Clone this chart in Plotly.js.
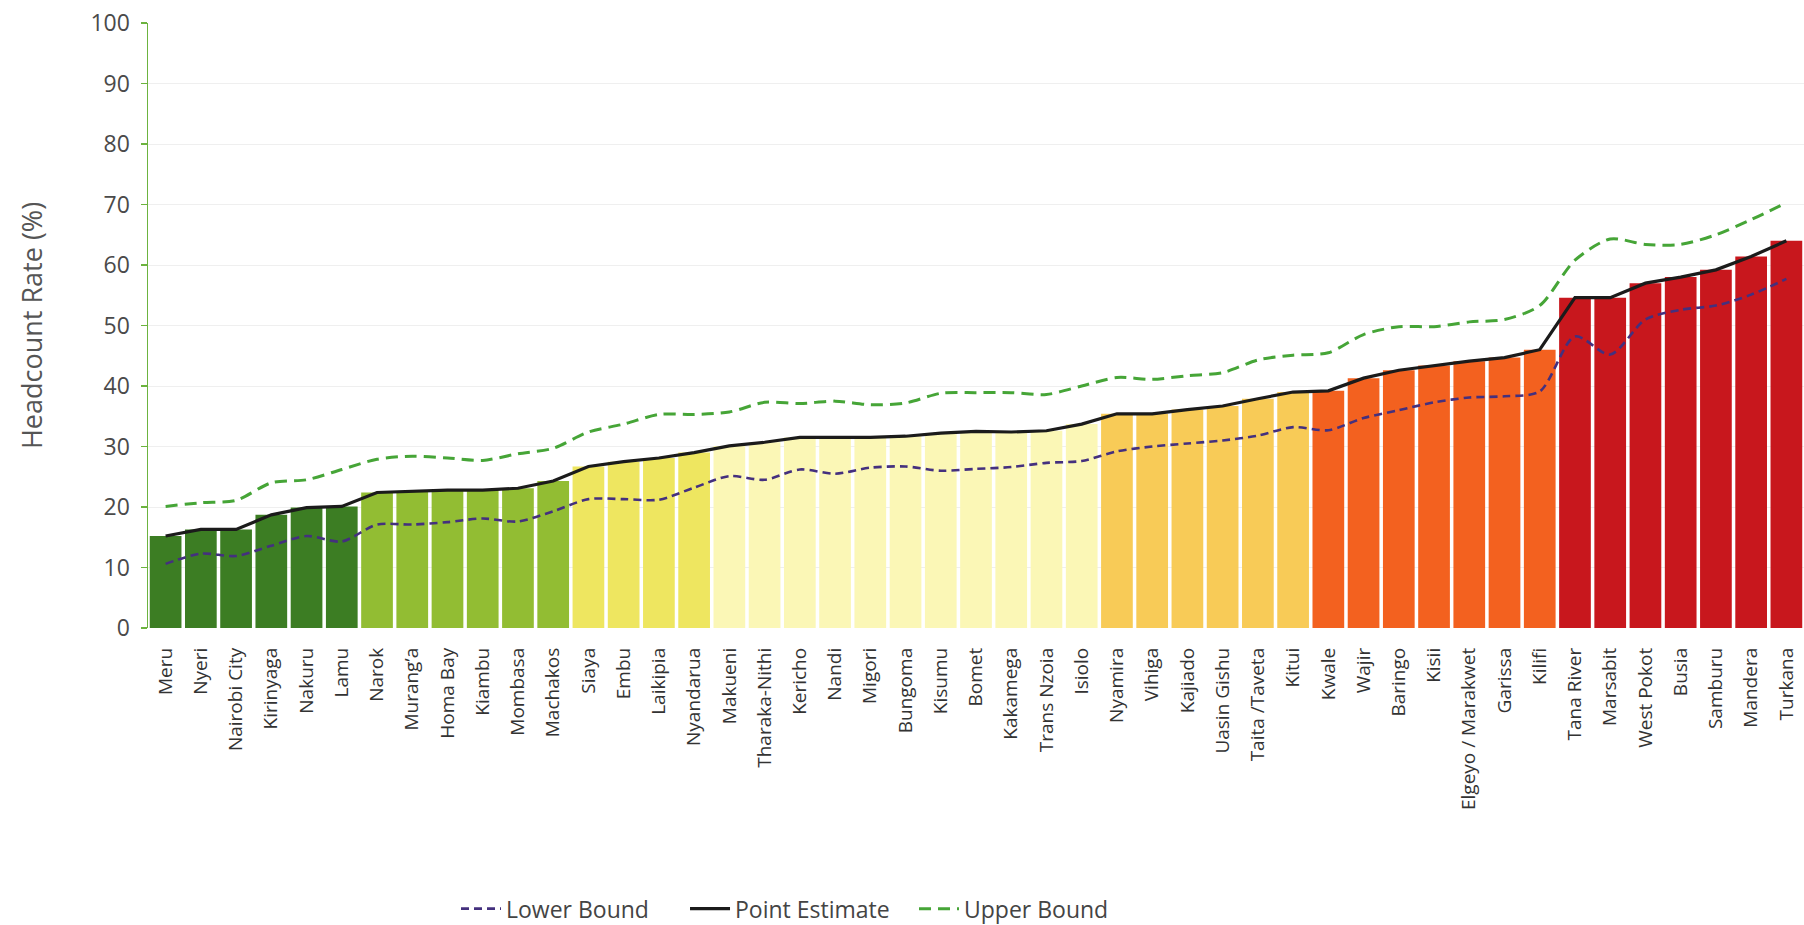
<!DOCTYPE html>
<html>
<head>
<meta charset="utf-8">
<script src="https://cdn.plot.ly/plotly-3.0.1.min.js"></script>
<style>
  html, body { margin: 0; padding: 0; background: #ffffff; }
  #chart { width: 1804px; height: 925px; }
</style>
</head>
<body>
<div id="chart"></div>
<script>
// ---- Data ----
const counties = ["Meru","Nyeri","Nairobi City","Kirinyaga","Nakuru","Lamu","Narok","Murang’a","Homa Bay","Kiambu","Mombasa","Machakos","Siaya","Embu","Laikipia","Nyandarua","Makueni","Tharaka-Nithi","Kericho","Nandi","Migori","Bungoma","Kisumu","Bomet","Kakamega","Trans Nzoia","Isiolo","Nyamira","Vihiga","Kajiado","Uasin Gishu","Taita /Taveta","Kitui","Kwale","Wajir","Baringo","Kisii","Elgeyo / Marakwet","Garissa","Kilifi","Tana River","Marsabit","West Pokot","Busia","Samburu","Mandera","Turkana"];

const pointEstimate = [15.2,16.3,16.3,18.7,19.9,20.1,22.4,22.6,22.8,22.8,23.1,24.3,26.7,27.5,28.1,29.0,30.1,30.7,31.5,31.5,31.5,31.7,32.2,32.5,32.4,32.6,33.7,35.4,35.4,36.1,36.7,37.9,39.0,39.2,41.3,42.6,43.4,44.1,44.7,46.0,54.6,54.6,57.0,58.0,59.2,61.4,64.0];

const lowerBound = [10.6,12.3,11.9,13.6,15.2,14.3,17.1,17.1,17.5,18.1,17.6,19.3,21.3,21.3,21.2,23.2,25.1,24.5,26.2,25.5,26.5,26.7,26.0,26.3,26.6,27.3,27.6,29.2,30.0,30.5,31.0,31.8,33.2,32.7,34.7,36.0,37.3,38.1,38.3,39.1,48.2,45.2,51.0,52.6,53.3,55.1,57.7];

const upperBound = [20.1,20.7,21.1,24.0,24.5,26.2,27.9,28.4,28.1,27.7,28.8,29.7,32.4,33.7,35.3,35.3,35.7,37.3,37.1,37.5,36.9,37.2,38.8,38.9,38.9,38.6,40.0,41.4,41.1,41.7,42.2,44.3,45.1,45.5,48.5,49.8,49.8,50.6,51.0,53.3,60.8,64.3,63.4,63.4,65.0,67.5,70.3];

// poverty tier of each county (1 = lowest ... 7 = highest)
const tiers = [1,1,1,1,1,1, 2,2,2,2,2,2, 3,3,3,3, 4,4,4,4,4,4,4,4,4,4,4, 5,5,5,5,5,5, 6,6,6,6,6,6,6, 7,7,7,7,7,7,7];

const yTicks = [0,10,20,30,40,50,60,70,80,90,100];

// ---- Styling ----
const tierColors = {1:"#3c7d23",2:"#92bd33",3:"#eee660",4:"#fbf7b6",5:"#f8cb57",6:"#f3611f",7:"#c8171d"};
const FONT = "Open Sans, Noto Sans, sans-serif";

const traces = [
  {
    type: "bar",
    x: counties,
    y: pointEstimate,
    marker: { color: tiers.map(t => tierColors[t]), line: { width: 0 } },
    showlegend: false,
    hoverinfo: "x+y"
  },
  {
    type: "scatter", mode: "lines", name: "Lower Bound",
    x: counties, y: lowerBound,
    line: { color: "#44307e", width: 2.6, dash: "8px,5px", shape: "spline", smoothing: 0.8 }
  },
  {
    type: "scatter", mode: "lines", name: "Point Estimate",
    x: counties, y: pointEstimate,
    line: { color: "#1b1b1b", width: 3.2 }
  },
  {
    type: "scatter", mode: "lines", name: "Upper Bound",
    x: counties, y: upperBound,
    line: { color: "#46a537", width: 3, dash: "12px,7px", shape: "spline", smoothing: 0.8 }
  }
];

const layout = {
  width: 1804,
  height: 925,
  margin: { l: 148, r: 0, t: 23, b: 297, pad: 0, autoexpand: false },
  paper_bgcolor: "#ffffff",
  plot_bgcolor: "#ffffff",
  font: { family: FONT, color: "#444444" },
  bargap: 0.1,
  showlegend: true,
  legend: {
    orientation: "h",
    x: 0.186, xanchor: "left",
    y: -0.464, yanchor: "middle",
    font: { family: FONT, size: 23, color: "#444444" },
    entrywidth: 174,
    entrywidthmode: "pixels",
    itemwidth: 40,
    traceorder: "normal"
  },
  xaxis: {
    type: "category",
    range: [-0.5, counties.length - 0.5],
    tickangle: -90,
    tickfont: { family: FONT, size: 19, color: "#333333" },
    ticks: "",
    ticklabelstandoff: 15,
    showline: false,
    showgrid: false,
    zeroline: false,
    automargin: false,
    fixedrange: true
  },
  yaxis: {
    range: [0, 100],
    tickvals: yTicks,
    ticktext: yTicks.map(String),
    tickfont: { family: FONT, size: 23, color: "#4a4a4a" },
    ticks: "outside",
    ticklen: 6,
    tickcolor: "#6cb33f",
    tickwidth: 1.5,
    ticklabelstandoff: 6,
    showline: true,
    linecolor: "#6cb33f",
    linewidth: 1.5,
    showgrid: true,
    gridcolor: "#efefef",
    gridwidth: 1,
    zeroline: false,
    automargin: false,
    title: { text: "Headcount Rate (%)", font: { family: FONT, size: 27, color: "#555555" }, standoff: 40 },
    fixedrange: true
  }
};

Plotly.newPlot("chart", traces, layout, { displayModeBar: false, staticPlot: true });
</script>
</body>
</html>
